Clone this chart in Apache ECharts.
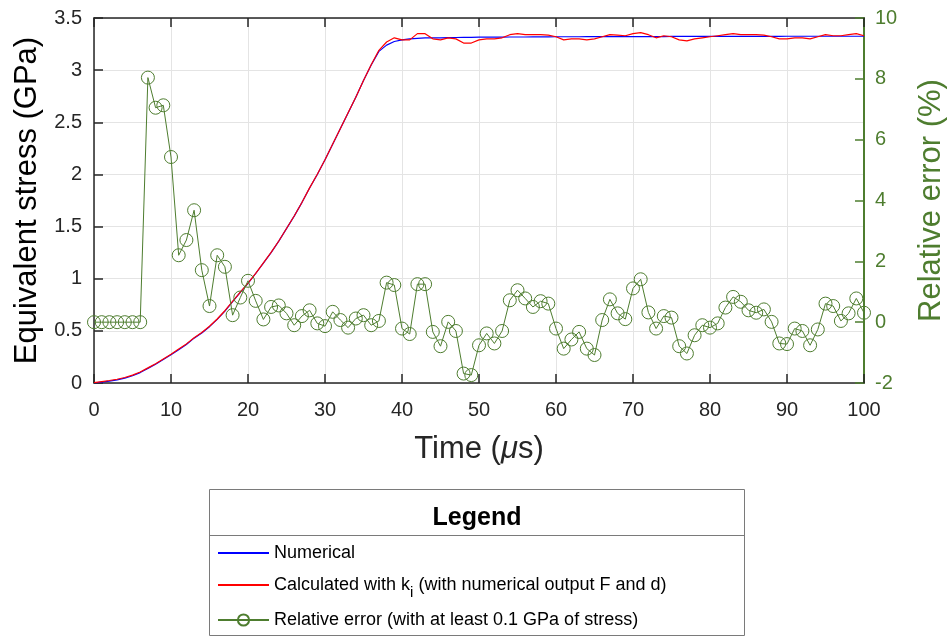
<!DOCTYPE html>
<html>
<head>
<meta charset="utf-8">
<script src="https://cdn.jsdelivr.net/npm/echarts@6/dist/echarts.min.js"></script>
<style>
  html, body { margin: 0; padding: 0; background: #fff; }
  #chart { width: 950px; height: 639px; }
</style>
</head>
<body>
<div id="chart"></div>
<script>
// Sample times (microseconds)
const time = [
  0, 1, 2, 3, 4, 5, 6, 7, 8, 9,
  10, 11, 12, 13, 14, 15, 16, 17, 18, 19,
  20, 21, 22, 23, 24, 25, 26, 27, 28, 29,
  30, 31, 32, 33, 34, 35, 36, 37, 38, 39,
  40, 41, 42, 43, 44, 45, 46, 47, 48, 49,
  50, 51, 52, 53, 54, 55, 56, 57, 58, 59,
  60, 61, 62, 63, 64, 65, 66, 67, 68, 69,
  70, 71, 72, 73, 74, 75, 76, 77, 78, 79,
  80, 81, 82, 83, 84, 85, 86, 87, 88, 89,
  90, 91, 92, 93, 94, 95, 96, 97, 98, 99,
  100
];

// Equivalent stress from the numerical model (GPa)
const numerical = [
  0.000, 0.008, 0.018, 0.030, 0.047, 0.070, 0.100, 0.140, 0.180, 0.225,
  0.270, 0.320, 0.370, 0.430, 0.480, 0.540, 0.610, 0.690, 0.780, 0.870,
  0.955, 1.050, 1.150, 1.250, 1.360, 1.480, 1.600, 1.730, 1.870, 2.000,
  2.140, 2.290, 2.440, 2.590, 2.740, 2.900, 3.050, 3.180, 3.240, 3.275,
  3.290, 3.300, 3.305, 3.310, 3.310, 3.310, 3.312, 3.313, 3.314, 3.315,
  3.316, 3.316, 3.317, 3.317, 3.318, 3.318, 3.318, 3.319, 3.319, 3.319,
  3.320, 3.320, 3.320, 3.320, 3.321, 3.321, 3.321, 3.321, 3.321, 3.322,
  3.322, 3.322, 3.322, 3.322, 3.322, 3.323, 3.323, 3.323, 3.323, 3.323,
  3.323, 3.323, 3.324, 3.324, 3.324, 3.324, 3.324, 3.324, 3.324, 3.324,
  3.325, 3.325, 3.325, 3.325, 3.325, 3.325, 3.325, 3.325, 3.325, 3.325,
  3.325
];

// Equivalent stress calculated with k_i (GPa)
const calculated = [
  0.004, 0.014, 0.024, 0.036, 0.053, 0.076, 0.106, 0.145, 0.185, 0.230,
  0.275, 0.325, 0.375, 0.434, 0.484, 0.544, 0.614, 0.693, 0.783, 0.872,
  0.957, 1.052, 1.152, 1.252, 1.362, 1.481, 1.601, 1.731, 1.871, 2.001,
  2.141, 2.291, 2.441, 2.591, 2.741, 2.901, 3.052, 3.190, 3.270, 3.310,
  3.290, 3.290, 3.350, 3.350, 3.300, 3.290, 3.310, 3.300, 3.260, 3.260,
  3.290, 3.300, 3.300, 3.310, 3.340, 3.350, 3.340, 3.340, 3.340, 3.335,
  3.320, 3.290, 3.300, 3.300, 3.290, 3.300, 3.320, 3.340, 3.335, 3.330,
  3.350, 3.360, 3.340, 3.310, 3.330, 3.320, 3.290, 3.280, 3.300, 3.310,
  3.320, 3.330, 3.340, 3.350, 3.340, 3.340, 3.340, 3.335, 3.320, 3.300,
  3.300, 3.310, 3.310, 3.300, 3.320, 3.340, 3.330, 3.330, 3.340, 3.350,
  3.330
];

// Relative error between the two (%)
const relErr = [
  0.00, 0.00, 0.00, 0.00, 0.00, 0.00, 0.00, 8.04, 7.05, 7.13,
  5.43, 2.20, 2.70, 3.68, 1.71, 0.53, 2.20, 1.82, 0.23, 0.81,
  1.36, 0.70, 0.09, 0.50, 0.55, 0.29, -0.10, 0.20, 0.39, -0.04,
  -0.13, 0.34, 0.07, -0.18, 0.12, 0.23, -0.10, 0.04, 1.30, 1.22,
  -0.21, -0.39, 1.25, 1.25, -0.32, -0.79, 0.01, -0.29, -1.69, -1.74,
  -0.76, -0.37, -0.70, -0.29, 0.72, 1.05, 0.78, 0.50, 0.69, 0.61,
  -0.21, -0.87, -0.57, -0.32, -0.87, -1.08, 0.07, 0.75, 0.29, 0.10,
  1.11, 1.41, 0.32, -0.21, 0.20, 0.15, -0.79, -1.03, -0.43, -0.10,
  -0.18, -0.04, 0.48, 0.83, 0.67, 0.39, 0.31, 0.42, 0.01, -0.70,
  -0.72, -0.21, -0.29, -0.76, -0.24, 0.61, 0.53, 0.04, 0.29, 0.78,
  0.31
];

const seriesNames = [
  'Numerical',
  'Calculated with k_i (with numerical output F and d)',
  'Relative error (with at least 0.1 GPa of stress)'
];

const FONT = 'Arial, "Liberation Sans", Helvetica, sans-serif';
const DARK = '#262626';
const GREEN = '#4e7d2f';
const GRID_LINE = '#e4e4e4';

function pairs(values) {
  return time.map((t, i) => [t, values[i]]);
}

const legendCommon = {
  orient: 'vertical',
  padding: 0,
  itemWidth: 51,
  itemHeight: 14,
  selectedMode: false,
  textStyle: {
    fontFamily: FONT,
    fontSize: 18,
    color: '#000',
    rich: {
      sub: { fontFamily: FONT, fontSize: 15, color: '#000', padding: [16, 0, 0, 0] }
    }
  },
  formatter: (name) => name.replace('k_i', 'k{sub|i}')
};

// plain line entries: hide the marker symbol in the legend sample
const lineOnly = (name) => ({ name: name, itemStyle: { opacity: 0 } });

const chart = echarts.init(document.getElementById('chart'), null, { renderer: 'canvas' });

chart.setOption({
  animation: false,
  backgroundColor: '#fff',
  textStyle: { fontFamily: FONT },
  grid: { left: 94, right: 86, top: 18, bottom: 256, outerBoundsMode: 'none', containLabel: false },
  xAxis: [
    {
      type: 'value',
      position: 'bottom',
      min: 0, max: 100, interval: 10,
      axisLine: { show: true, onZero: false, lineStyle: { color: DARK, width: 1.5 } },
      axisTick: { show: true, inside: true, length: 9, lineStyle: { color: DARK, width: 1.5 } },
      axisLabel: { fontSize: 20, color: DARK, margin: 17, fontFamily: FONT },
      splitLine: { show: true, lineStyle: { color: GRID_LINE, width: 1 } },
      name: 'Time ({mu|μ}s)',
      nameLocation: 'middle',
      nameGap: 51,
      nameTextStyle: {
        fontSize: 31, color: DARK, fontFamily: FONT,
        rich: { mu: { fontSize: 31, color: DARK, fontStyle: 'italic', fontFamily: FONT } }
      }
    },
    {
      type: 'value',
      position: 'top',
      min: 0, max: 100, interval: 10,
      axisLine: { show: true, onZero: false, lineStyle: { color: DARK, width: 1.5 } },
      axisTick: { show: true, inside: true, length: 9, lineStyle: { color: DARK, width: 1.5 } },
      axisLabel: { show: false },
      splitLine: { show: false }
    }
  ],
  yAxis: [
    {
      type: 'value',
      position: 'left',
      min: 0, max: 3.5, interval: 0.5,
      axisLine: { show: true, onZero: false, lineStyle: { color: DARK, width: 1.5 } },
      axisTick: { show: true, inside: true, length: 9, lineStyle: { color: DARK, width: 1.5 } },
      axisLabel: { fontSize: 20, color: DARK, margin: 12, fontFamily: FONT },
      splitLine: { show: true, lineStyle: { color: GRID_LINE, width: 1 } },
      name: 'Equivalent stress (GPa)',
      nameLocation: 'middle',
      nameRotate: 90,
      nameGap: 51,
      nameTextStyle: { fontSize: 31, color: '#000', fontFamily: FONT }
    },
    {
      type: 'value',
      position: 'right',
      min: -2, max: 10, interval: 2,
      axisLine: { show: true, onZero: false, lineStyle: { color: GREEN, width: 2 } },
      axisTick: { show: true, inside: true, length: 9, lineStyle: { color: GREEN, width: 1.5 } },
      axisLabel: { fontSize: 20, color: GREEN, margin: 11, fontFamily: FONT },
      splitLine: { show: false },
      name: 'Relative error (%)',
      nameLocation: 'middle',
      nameRotate: 90,
      nameGap: 52,
      nameTextStyle: { fontSize: 31, color: GREEN, fontFamily: FONT }
    }
  ],
  legend: [
    Object.assign({}, legendCommon, { data: [lineOnly(seriesNames[0])], left: 217, top: 544 }),
    Object.assign({}, legendCommon, { data: [lineOnly(seriesNames[1])], left: 217, top: 576 }),
    Object.assign({}, legendCommon, { data: [seriesNames[2]], left: 217, top: 611 })
  ],
  graphic: [
    {
      type: 'rect',
      z: 0,
      shape: { x: 209.5, y: 489.5, width: 535, height: 146 },
      style: { fill: '#fff', stroke: '#7a7a7a', lineWidth: 1 }
    },
    {
      type: 'line',
      z: 1,
      shape: { x1: 209.5, y1: 535.5, x2: 744.5, y2: 535.5 },
      style: { stroke: '#7a7a7a', lineWidth: 1 }
    },
    {
      type: 'text',
      z: 1,
      x: 477, y: 518,
      style: {
        text: 'Legend',
        font: 'bold 25px ' + FONT,
        fill: '#000',
        textAlign: 'center',
        textVerticalAlign: 'middle'
      }
    }
  ],
  series: [
    {
      name: seriesNames[0],
      type: 'line',
      xAxisIndex: 0, yAxisIndex: 0,
      data: pairs(numerical),
      symbol: 'none',
      lineStyle: { color: '#0000ff', width: 1.2 },
      itemStyle: { color: '#0000ff' },
      z: 2
    },
    {
      name: seriesNames[1],
      type: 'line',
      xAxisIndex: 0, yAxisIndex: 0,
      data: pairs(calculated),
      symbol: 'none',
      lineStyle: { color: '#ff0000', width: 1.2 },
      itemStyle: { color: '#ff0000' },
      z: 3
    },
    {
      name: seriesNames[2],
      type: 'line',
      xAxisIndex: 0, yAxisIndex: 1,
      data: pairs(relErr),
      symbol: 'circle',
      symbolSize: 13,
      lineStyle: { color: GREEN, width: 1 },
      itemStyle: { color: 'rgba(0,0,0,0)', borderColor: GREEN, borderWidth: 1 },
      z: 4
    }
  ]
});
</script>
</body>
</html>
